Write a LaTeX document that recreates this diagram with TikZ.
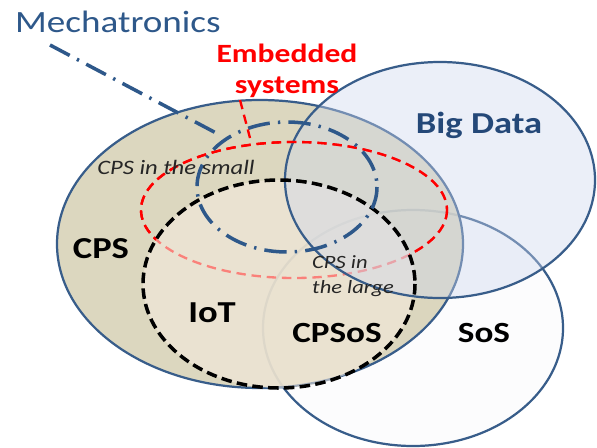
\documentclass[tikz,border=0pt]{standalone}
\usepackage{fontspec}
\setmainfont{Carlito}
\usepackage{tikz}
\usetikzlibrary{positioning}
\definecolor{rim}{RGB}{56,93,138}
\definecolor{cpsfill}{RGB}{214,208,180}
\definecolor{iotfill}{RGB}{247,236,224}
\definecolor{bigfill}{RGB}{205,215,238}
\definecolor{sosfill}{RGB}{252,252,253}
\definecolor{mechblue}{RGB}{46,88,138}
\definecolor{bigblue}{RGB}{36,72,120}
\newcommand{\wtxt}[1]{\scalebox{1.2}[1]{#1}}

\begin{document}
\begin{tikzpicture}[x=0.03cm,y=-0.03cm]
	\tikzstyle{set} = [draw=rim, line width=1.9pt]
	\tikzstyle{setname} = [inner sep=0pt, anchor=base, font=\fontsize{26}{31}\selectfont\bfseries]
	\tikzstyle{note} = [inner sep=0pt, anchor=base west, text=black!85, font=\fontsize{16}{19}\selectfont\itshape]
	\tikzstyle{dashdot} = [draw=mechblue, line width=3pt, dash pattern=on 19pt off 7pt on 2pt off 7pt]
	\tikzstyle{redline} = [draw=red, line width=2pt, dash pattern=on 8pt off 5pt]
	\tikzstyle{iotline} = [draw=black, line width=3pt, dash pattern=on 9pt off 4.5pt]
	
	\useasboundingbox (0,0) rectangle (597,447);
	\fill[white] (0,0) rectangle (597,447);
	
	\filldraw[set, fill=sosfill] (413,328) ellipse [x radius=150, y radius=118];
	\fill[cpsfill, opacity=0.85] (260,244) ellipse [x radius=203, y radius=144];
	\draw[set] (260,244) ellipse [x radius=203, y radius=144];
	\draw[redline] (294,210) ellipse [x radius=153, y radius=68];
	\fill[iotfill, opacity=0.55] (279,284) ellipse [x radius=136, y radius=104];
	\fill[bigfill, opacity=0.4] (440,180) ellipse [x radius=155, y radius=118];
	\draw[set] (440,180) ellipse [x radius=155, y radius=118];
	\begin{scope}[even odd rule]
		\clip (0,0) rectangle (597,447) (279,284) ellipse [x radius=136, y radius=104];
		\draw[redline] (294,210) ellipse [x radius=153, y radius=68];
	\end{scope}
	\draw[iotline] (279,284) ellipse [x radius=136, y radius=104];
	\draw[dashdot] (287,187) ellipse [x radius=90, y radius=65];
	
	\node[inner sep=0pt, anchor=base west, text=mechblue, font=\fontsize{26.4}{31}\selectfont] (mech) at (15,32) {\wtxt{Mechatronics}};
	\node[setname, text=red, font=\fontsize{22.5}{27}\selectfont\bfseries] (embA) at (287,62) {\wtxt{Embedded}};
	\node[setname, text=red, font=\fontsize{22.5}{27}\selectfont\bfseries] (embB) at (287,93) {\wtxt{systems}};
	\node[setname, text=bigblue] (big) at (479,133) {\wtxt{Big Data}};
	\node[setname] (cps) at (101,258) {\wtxt{CPS}};
	\node[setname] (iot) at (212,322) {\wtxt{IoT}};
	\node[setname, font=\fontsize{25}{30}\selectfont\bfseries] (cpsos) at (337,342) {\wtxt{CPSoS}};
	\node[setname, font=\fontsize{25}{30}\selectfont\bfseries] (sos) at (484,342) {\wtxt{SoS}};
	\node[note, anchor=base, font=\fontsize{17.5}{21}\selectfont\itshape] (small) at (176,174) {\wtxt{CPS in the small}};
	\node[note] (largeA) at (312,268) {\wtxt{CPS in}};
	\node[note] (largeB) at (312,293) {\wtxt{the large}};
	
	\coordinate (mechfoot) at (50,45);
	\coordinate (mechtip) at (218,134);
	\coordinate (embfoot) at (240,100);
	\coordinate (embtip) at (250,138);
	
	\draw[dashdot] (mechfoot) -- (mechtip);
	\draw[redline] (embfoot) -- (embtip);
\end{tikzpicture}
\end{document}
